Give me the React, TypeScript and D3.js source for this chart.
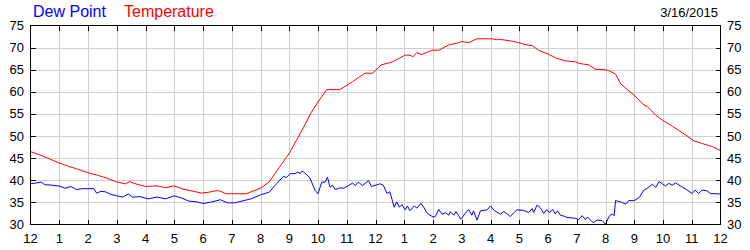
import React from "react";
import * as d3 from "d3";

const W = 750;
const H = 250;

const hourTickLabels = ["12", "1", "2", "3", "4", "5", "6", "7", "8", "9", "10", "11", "12", "1", "2", "3", "4", "5", "6", "7", "8", "9", "10", "11", "12"];
const yTickValues = [30, 35, 40, 45, 50, 55, 60, 65, 70, 75];

const tempHours = [0, 0.3, 0.6, 1.0, 1.3, 1.6, 2.0, 2.4, 2.7, 3.0, 3.3, 3.45, 3.7, 4.0, 4.4, 4.7, 5.0, 5.3, 5.6, 5.95, 6.2, 6.5, 6.65, 6.8, 7.5, 8.0, 8.3, 8.5, 9.0, 9.5, 9.77, 10.0, 10.3, 10.76, 11.2, 11.4, 11.63, 11.9, 12.2, 12.57, 12.8, 13.03, 13.2, 13.3, 13.44, 13.6, 13.96, 14.2, 14.54, 14.89, 15.0, 15.24, 15.53, 16.05, 16.2, 16.4, 16.8, 17.1, 17.33, 17.45, 17.67, 18.02, 18.26, 18.6, 18.95, 19.1, 19.42, 19.65, 20.0, 20.15, 20.35, 20.52, 20.7, 20.99, 21.34, 21.45, 21.75, 21.98, 22.33, 22.68, 22.91, 23.08, 23.37, 23.72, 24.0];
const tempValues = [46.5, 45.8, 45.0, 43.9, 43.2, 42.6, 41.7, 41.0, 40.4, 39.6, 39.2, 39.7, 39.1, 38.6, 38.75, 38.3, 38.75, 38.0, 37.6, 37.1, 37.3, 37.7, 37.4, 36.95, 36.95, 38.2, 39.6, 41.5, 46.1, 52.0, 55.4, 57.7, 60.5, 60.5, 62.3, 63.2, 64.2, 64.2, 66.1, 66.7, 67.5, 68.3, 68.3, 67.9, 68.9, 68.4, 69.4, 69.4, 70.6, 71.1, 71.4, 71.1, 72.0, 72.0, 71.8, 71.8, 71.4, 70.9, 70.5, 70.5, 69.4, 68.5, 67.7, 67.0, 66.8, 66.4, 66.1, 65.1, 65.0, 64.7, 64.0, 61.9, 60.8, 59.3, 57.0, 56.7, 54.7, 53.6, 52.2, 50.7, 49.7, 48.9, 48.3, 47.6, 46.7];

const dewHours = [0, 0.2, 0.37, 0.5, 0.75, 1.0, 1.2, 1.4, 1.6, 1.8, 2.2, 2.3, 2.45, 2.6, 2.8, 3.0, 3.2, 3.4, 3.55, 3.8, 4.1, 4.4, 4.7, 5.0, 5.25, 5.5, 5.8, 6.0, 6.3, 6.6, 6.85, 7.1, 7.67, 8.0, 8.3, 8.5, 8.8, 8.9, 9.03, 9.2, 9.3, 9.38, 9.45, 9.6, 9.72, 9.9, 10.0, 10.13, 10.25, 10.33, 10.42, 10.5, 10.6, 10.76, 10.9, 11.2, 11.3, 11.4, 11.55, 11.76, 11.86, 12.16, 12.27, 12.4, 12.5, 12.65, 12.74, 12.83, 12.92, 13.03, 13.11, 13.2, 13.35, 13.44, 13.58, 13.67, 13.8, 14.0, 14.08, 14.2, 14.32, 14.43, 14.55, 14.6, 14.72, 14.8, 14.88, 14.97, 15.12, 15.24, 15.35, 15.41, 15.53, 15.65, 15.88, 16.0, 16.14, 16.35, 16.45, 16.52, 16.69, 16.8, 16.92, 17.15, 17.33, 17.45, 17.5, 17.62, 17.73, 17.85, 17.96, 18.05, 18.17, 18.25, 18.33, 18.43, 18.55, 18.66, 18.95, 19.07, 19.19, 19.3, 19.37, 19.57, 19.7, 19.88, 20.0, 20.12, 20.23, 20.3, 20.35, 20.47, 20.58, 20.7, 20.81, 21.0, 21.17, 21.34, 21.45, 21.63, 21.75, 21.86, 21.98, 22.09, 22.2, 22.32, 22.44, 22.61, 22.84, 23.01, 23.12, 23.24, 23.36, 23.53, 23.65, 24.0];
const dewValues = [39.2, 39.4, 39.6, 39.0, 38.9, 38.7, 38.2, 38.6, 37.9, 38.1, 38.1, 37.1, 37.5, 37.4, 36.8, 36.5, 36.2, 36.9, 36.2, 36.3, 35.8, 36.2, 35.8, 36.5, 36.0, 35.3, 35.1, 34.75, 35.1, 35.6, 34.9, 34.9, 35.8, 36.7, 37.3, 38.8, 40.9, 40.6, 41.5, 41.5, 41.85, 41.5, 42.1, 41.3, 40.5, 37.7, 36.95, 39.6, 39.6, 40.7, 38.4, 38.9, 37.9, 38.3, 38.2, 39.35, 38.8, 39.6, 38.8, 39.95, 38.6, 39.2, 38.9, 37.0, 37.4, 33.9, 35.1, 33.9, 34.5, 33.3, 34.2, 33.1, 34.2, 33.7, 34.8, 34.0, 32.5, 31.7, 31.8, 33.4, 32.3, 32.7, 32.1, 32.9, 32.1, 32.9, 32.1, 31.2, 32.5, 33.4, 32.1, 33.1, 31.0, 33.1, 33.3, 34.2, 33.1, 32.3, 32.9, 32.7, 31.8, 32.6, 33.3, 33.2, 32.7, 33.6, 32.7, 34.4, 33.8, 32.5, 33.4, 32.7, 33.4, 32.4, 33.1, 32.1, 31.9, 31.6, 31.4, 31.1, 32.0, 31.1, 31.7, 30.4, 31.0, 30.9, 30.05, 31.8, 32.4, 32.0, 35.4, 35.2, 35.0, 34.6, 35.4, 35.4, 36.1, 37.8, 38.2, 39.1, 38.4, 39.7, 39.2, 38.7, 39.3, 38.9, 39.4, 38.7, 37.8, 37.0, 37.8, 37.0, 37.8, 37.6, 37.0, 36.9];

export default function App() {
  const left = 30.5;
  const right = 720.5;
  const top = 25.5;
  const bottom = 224.5;

  const x = d3.scaleLinear().domain([0, 24]).range([left, right]);
  const y = d3.scaleLinear().domain([30, 75]).range([bottom, top]);

  const tempData = tempHours.map((h, i) => [h, tempValues[i]] as [number, number]);
  const dewData = dewHours.map((h, i) => [h, dewValues[i]] as [number, number]);

  const line = d3
    .line<[number, number]>()
    .x((d) => x(d[0]))
    .y((d) => y(d[1]));

  const hours = d3.range(0, 25);
  const font = "'Liberation Sans', Arial, sans-serif";
  const gridColor = "#cfcfcf";

  return (
    <svg
      width={W}
      height={H}
      style={{ position: "absolute", left: 0, top: 0, background: "#fff" }}
      fontFamily={font}
    >
      <rect x={0} y={0} width={W} height={H} fill="#fff" />
      {/* grid */}
      <g shapeRendering="crispEdges" stroke={gridColor} strokeWidth={1}>
        {hours.slice(1, 24).map((h) => (
          <line key={"gx" + h} x1={Math.round(x(h)) + 0.5} x2={Math.round(x(h)) + 0.5} y1={top} y2={bottom} />
        ))}
        {yTickValues.slice(1, -1).map((v) => (
          <line key={"gy" + v} x1={left} x2={right} y1={Math.round(y(v)) + 0.5} y2={Math.round(y(v)) + 0.5} />
        ))}
      </g>
      {/* series */}
      <g fill="none" strokeWidth={1}>
        <path d={line(tempData) || ""} stroke="#ff0000" />
        <path d={line(dewData) || ""} stroke="#0000ff" />
      </g>
      {/* frame and inward ticks */}
      <g shapeRendering="crispEdges" stroke="#000" strokeWidth={1}>
        <rect x={left} y={top} width={right - left} height={bottom - top} fill="none" />
        {hours.slice(1, 24).map((h) => {
          const xp = Math.round(x(h)) + 0.5;
          return (
            <g key={"tx" + h}>
              <line x1={xp} x2={xp} y1={top} y2={top + 5} />
              <line x1={xp} x2={xp} y1={bottom} y2={bottom - 5} />
            </g>
          );
        })}
        {yTickValues.slice(1, -1).map((v) => {
          const yp = Math.round(y(v)) + 0.5;
          return (
            <g key={"ty" + v}>
              <line x1={left} x2={left + 5} y1={yp} y2={yp} />
              <line x1={right} x2={right - 5} y1={yp} y2={yp} />
            </g>
          );
        })}
      </g>
      {/* y labels */}
      <g fontSize={13} fill="#000">
        {yTickValues.map((v) => (
          <text key={"ly" + v} x={24} y={y(v)} textAnchor="end" dominantBaseline="central">
            {v}
          </text>
        ))}
        {yTickValues.map((v) => (
          <text key={"ry" + v} x={727} y={y(v)} textAnchor="start" dominantBaseline="central">
            {v}
          </text>
        ))}
        {hours.map((h) => (
          <text key={"lx" + h} x={x(h)} y={243} textAnchor="middle">
            {hourTickLabels[h]}
          </text>
        ))}
      </g>
      {/* legend / title */}
      <text x={33} y={17} fontSize={16} fill="#0000ff">
        Dew Point
      </text>
      <text x={124} y={17} fontSize={16} fill="#ff0000">
        Temperature
      </text>
      <text x={718} y={17} fontSize={13} fill="#000" textAnchor="end">
        3/16/2015
      </text>
    </svg>
  );
}
